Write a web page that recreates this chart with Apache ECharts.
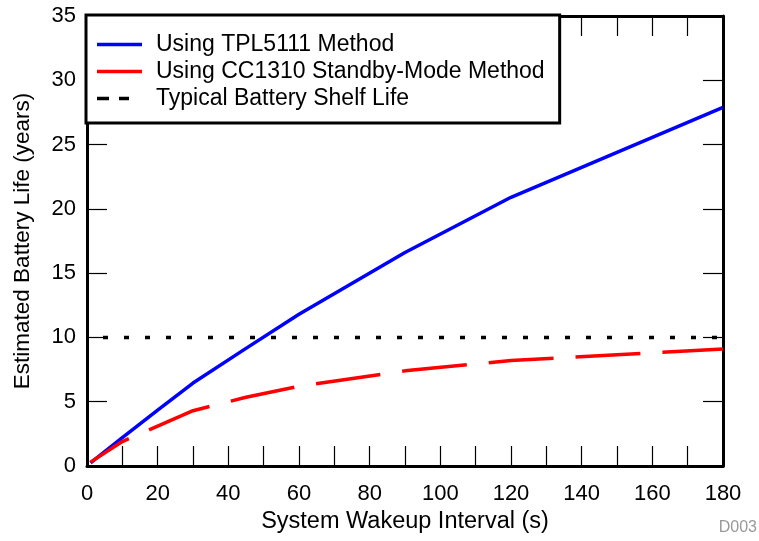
<!DOCTYPE html>
<html lang="en">
<head>
    <meta charset="UTF-8">
    <title>Battery Life vs Wakeup Interval</title>
    <script src="https://cdn.jsdelivr.net/npm/echarts@6/dist/echarts.min.js"></script>
    <style>
        html, body { margin: 0; padding: 0; background: #fff; }
        #main { width: 759px; height: 541px; }
    </style>
</head>
<body>
<div id="main"></div>
<script>
    // wakeup interval (s)
    var wakeupX = [1, 10, 20, 30, 45, 60, 90, 120, 180];
    // estimated battery life (years)
    var tplLife = [0.25, 2.2, 4.35, 6.45, 9.15, 11.8, 16.6, 20.9, 27.9];
    var ccLife = [0.3, 1.9, 3.1, 4.3, 5.35, 6.2, 7.4, 8.2, 9.1];
    var shelfX = [0, 180];
    var shelfLife = [10, 10];

    var seriesNames = ['Using TPL5111 Method', 'Using CC1310 Standby-Mode Method', 'Typical Battery Shelf Life'];

    function pairs(xs, ys) {
        var out = [];
        for (var i = 0; i < xs.length; i++) out.push([xs[i], ys[i]]);
        return out;
    }

    var font = "'Liberation Sans', Arial, sans-serif";
    var chart = echarts.init(document.getElementById('main'));

    var tickStyle = { color: '#000', width: 1.2 };
    var axisBase = {
        type: 'value',
        axisLine: { show: true, onZero: false, lineStyle: { color: '#000', width: 3 } },
        axisTick: { show: true, inside: true, length: 20, lineStyle: tickStyle },
        splitLine: { show: false }
    };

    // legend icons: plain bar for solid lines, two short dashes for the shelf life line
    var barIcon = 'path://M0,0H45V3.5H0Z';
    var dashIcon = 'path://M0,0H12V3.5H0Z M22,0H32V3.5H22Z M45,0L45,3.5';

    var option = {
        animation: false,
        backgroundColor: '#fff',
        textStyle: { fontFamily: font },
        grid: { left: 87, top: 16, right: 36, bottom: 75, containLabel: false, outerBoundsMode: 'none' },
        legend: {
            orient: 'vertical',
            left: 86,
            top: 15,
            padding: [18, 15, 13, 11],
            itemGap: 4,
            itemWidth: 45,
            itemHeight: 3.5,
            backgroundColor: '#fff',
            borderColor: '#000',
            borderWidth: 3,
            borderRadius: 0,
            textStyle: { fontFamily: font, fontSize: 23, color: '#000', padding: [0, 0, 0, 9] },
            data: [
                { name: seriesNames[0], icon: barIcon },
                { name: seriesNames[1], icon: barIcon },
                { name: seriesNames[2], icon: dashIcon }
            ]
        },
        xAxis: [
            Object.assign({}, axisBase, {
                min: 0, max: 180, interval: 20,
                minorTick: { show: true, splitNumber: 2, length: 20, lineStyle: tickStyle },
                axisLabel: { fontSize: 22, color: '#000', margin: 17 },
                name: 'System Wakeup Interval (s)',
                nameLocation: 'middle',
                nameGap: 39,
                nameTextStyle: { fontSize: 23.5, color: '#000' }
            }),
            Object.assign({}, axisBase, {
                position: 'top',
                min: 0, max: 180, interval: 20,
                minorTick: { show: true, splitNumber: 2, length: 20, lineStyle: tickStyle },
                axisLabel: { show: false }
            })
        ],
        yAxis: [
            Object.assign({}, axisBase, {
                min: 0, max: 35, interval: 5,
                axisLabel: { fontSize: 22, color: '#000', margin: 11 },
                name: 'Estimated Battery Life (years)',
                nameLocation: 'middle',
                nameGap: 53,
                nameTextStyle: { fontSize: 22.5, color: '#000' }
            }),
            Object.assign({}, axisBase, {
                position: 'right',
                min: 0, max: 35, interval: 5,
                axisLabel: { show: false }
            })
        ],
        series: [
            {
                name: seriesNames[0],
                type: 'line',
                symbol: 'none',
                color: '#0000ff',
                lineStyle: { color: '#0000ff', width: 3.5 },
                data: pairs(wakeupX, tplLife)
            },
            {
                name: seriesNames[1],
                type: 'line',
                symbol: 'none',
                color: '#ff0000',
                lineStyle: { color: '#ff0000', width: 3.5, type: [65, 22], dashOffset: 20 },
                data: pairs(wakeupX, ccLife)
            },
            {
                name: seriesNames[2],
                type: 'line',
                symbol: 'none',
                color: '#000',
                lineStyle: { color: '#000', width: 3.5, type: [5, 16], dashOffset: 5 },
                data: pairs(shelfX, shelfLife)
            }
        ],
        graphic: [
            {
                type: 'text',
                right: 2,
                top: 520,
                style: { text: 'D003', fontSize: 16, fill: '#999', fontFamily: font }
            }
        ]
    };

    chart.setOption(option);
</script>
</body>
</html>
